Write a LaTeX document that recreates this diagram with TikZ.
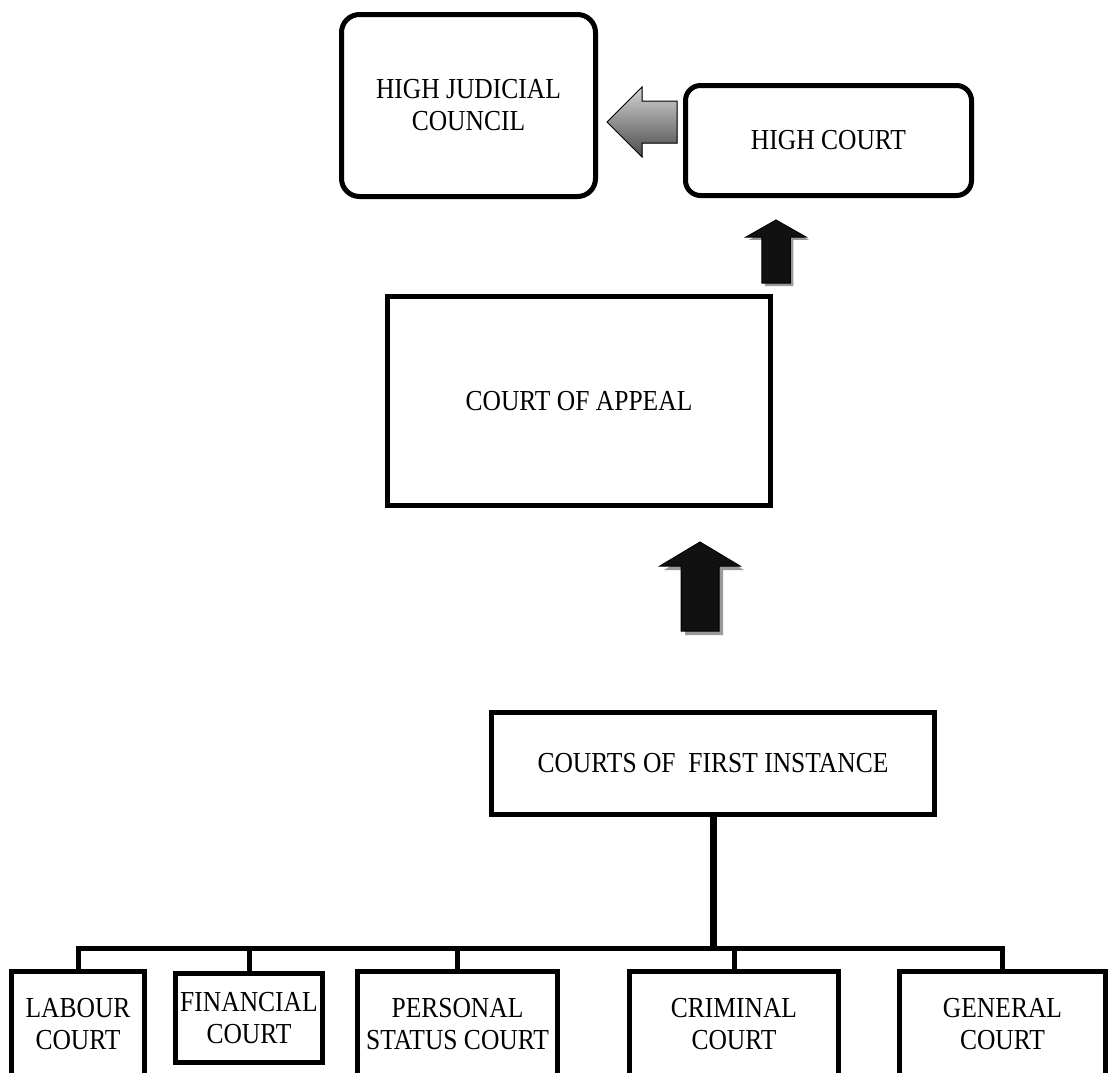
\documentclass[tikz,border=0pt]{standalone}
\usepackage{fontspec}
\setmainfont{Liberation Serif}[FakeStretch=0.88]
\definecolor{courtBlack}{HTML}{111111}
\definecolor{courtShadow}{HTML}{9A9A9A}
\definecolor{courtGreyLight}{HTML}{D4D4D4}
\definecolor{courtGreyDark}{HTML}{4A4A4A}
\usetikzlibrary{positioning, calc}
\tikzset{
    court node/.style={rectangle, draw=black, line width=5pt, fill=white, align=center, inner sep=0pt},
    council node/.style={court node, rounded corners=18pt},
    branch line/.style={draw=black, line width=5pt},
    up block/.pic={
        \fill[courtShadow] (4,4) -- (44,28) -- (23,28) -- (23,93) -- (-15,93) -- (-15,28) -- (-36,28) -- cycle;
        \filldraw[fill=courtBlack, draw=black, line width=1pt] (0,0) -- (40,24) -- (19,24) -- (19,89) -- (-19,89) -- (-19,24) -- (-40,24) -- cycle;
    },
    left block/.pic={
        \filldraw[top color=courtGreyLight, bottom color=courtGreyDark, draw=black, line width=1pt] (0,0) -- (35,-35) -- (35,-21) -- (70,-21) -- (70,21) -- (35,21) -- (35,35) -- cycle;
    },
}

\begin{document}
\begin{tikzpicture}[x=1pt, y=-1pt, font=\fontsize{29}{32}\selectfont]
    \useasboundingbox (0,0) rectangle (1110,1072);
    \node[council node, minimum width=254pt, minimum height=182pt] (council) at (468.5,105.5) {HIGH JUDICIAL\\COUNCIL};
    \node[council node, rounded corners=15pt, minimum width=286pt, minimum height=110pt] (high) at (828.5,140.5) {HIGH COURT};
    \node[court node, minimum width=383pt, minimum height=209pt] (appeal) at (579,401) {COURT OF APPEAL};
    \node[court node, minimum width=443pt, minimum height=102pt] (first) at (713,763.5) {COURTS OF \ FIRST INSTANCE};
    \node[court node, minimum width=133pt, minimum height=105pt] (labour) at (78,1024) {LABOUR\\COURT};
    \node[court node, minimum width=147pt, minimum height=89pt] (financial) at (249,1018) {FINANCIAL\\COURT};
    \node[court node, minimum width=200pt, minimum height=105pt] (personal) at (457.5,1024) {PERSONAL\\STATUS COURT};
    \node[court node, minimum width=209pt, minimum height=105pt] (criminal) at (734,1024) {CRIMINAL\\COURT};
    \node[court node, minimum width=206pt, minimum height=105pt] (general) at (1002.5,1024) {GENERAL\\COURT};
    \pic at (607,122) {left block};
    \pic[xscale=0.75, yscale=0.71] at (776,220) {up block};
    \pic at (700,542) {up block};
    \coordinate (bus) at (first.south |- 0,948);
    \draw[branch line, line width=7pt] (first.south) -- (bus);
    \foreach \court in {labour, financial, personal, criminal, general}
        \draw[branch line] (bus) -| (\court.north);
\end{tikzpicture}
\end{document}
